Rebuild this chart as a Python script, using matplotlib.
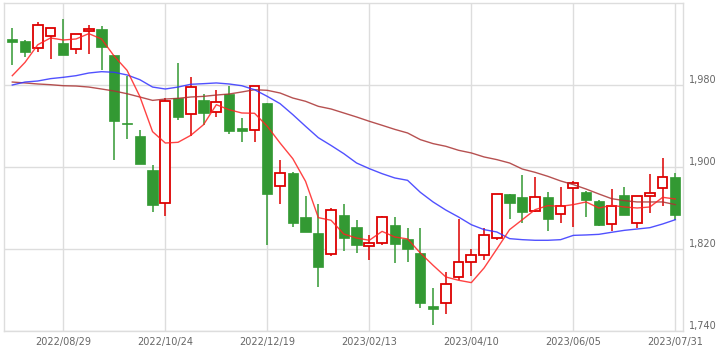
import numpy as np
import pandas as pd
import matplotlib
matplotlib.use("Agg")
import matplotlib.pyplot as plt

# weekly candles 2022/08/01 - 2023/07/31
dates = pd.date_range("2022-08-01", periods=53, freq="W-MON")

opens = [2025.2, 2023.3, 2016.1, 2027.8, 2021.3, 2015.1, 2032.7, 2035.0, 2009.6, 1943.3,
         1930.6, 1897.4, 1864.9, 1967.3, 1951.7, 1965.7, 1953.7, 1970.9, 1938.4, 1936.1,
         1962.8, 1881.5, 1894.5, 1851.5, 1835.9, 1815.1, 1853.5, 1841.8, 1822.9, 1825.9,
         1843.4, 1830.1, 1816.1, 1764.7, 1767.3, 1792.7, 1807.3, 1813.8, 1830.4, 1873.7,
         1870.7, 1857.1, 1870.7, 1854.1, 1879.8, 1875.9, 1867.2, 1844.4, 1873.0, 1845.4,
         1871.7, 1879.5, 1890.6]
highs = [2035.6, 2024.2, 2041.5, 2035.6, 2044.4, 2029.8, 2038.5, 2037.6, 2009.6, 1988.5,
         1936.1, 1902.0, 1967.3, 2001.5, 1987.8, 1971.2, 1975.4, 1979.3, 1947.8, 1979.5,
         1962.8, 1906.8, 1895.1, 1871.4, 1863.9, 1860.0, 1864.2, 1848.6, 1833.7, 1852.5,
         1851.2, 1840.5, 1840.5, 1781.9, 1797.2, 1849.3, 1820.0, 1840.2, 1873.7, 1873.7,
         1892.2, 1889.9, 1875.3, 1880.5, 1886.7, 1876.6, 1867.8, 1878.5, 1880.5, 1871.7,
         1893.5, 1908.8, 1894.1]
lows = [1999.5, 2007.3, 2011.9, 2005.4, 2008.9, 2010.2, 2010.2, 1994.3, 1906.8, 1927.3,
        1902.6, 1856.1, 1851.9, 1946.2, 1930.6, 1941.0, 1948.8, 1932.2, 1924.1, 1924.1,
        1823.9, 1863.9, 1841.1, 1836.3, 1782.9, 1812.8, 1818.0, 1816.1, 1809.6, 1823.6,
        1806.3, 1807.0, 1762.4, 1746.2, 1756.3, 1790.1, 1793.7, 1809.6, 1828.5, 1849.3,
        1845.4, 1855.8, 1837.2, 1845.4, 1841.5, 1851.2, 1842.1, 1837.9, 1852.8, 1840.5,
        1855.1, 1861.6, 1848.6]
closes = [2021.6, 2011.9, 2038.5, 2035.6, 2008.9, 2029.8, 2034.6, 2016.7, 1944.6, 1941.6,
          1902.6, 1862.6, 1964.7, 1948.5, 1978.0, 1952.4, 1963.4, 1934.8, 1934.8, 1979.0,
          1873.3, 1894.1, 1845.0, 1836.3, 1802.1, 1858.1, 1830.4, 1823.6, 1825.9, 1851.2,
          1824.5, 1820.3, 1767.0, 1761.1, 1785.9, 1807.3, 1813.8, 1833.7, 1873.7, 1864.9,
          1855.8, 1870.7, 1849.3, 1861.6, 1884.7, 1868.1, 1843.1, 1862.3, 1852.8, 1871.7,
          1874.6, 1890.2, 1852.8]

ma_short = [1989.1, 2002.1, 2019.3, 2025.9, 2023.9, 2024.9, 2030.1, 2024.9, 2008.0, 1994.3,
            1968.9, 1934.5, 1923.4, 1924.1, 1930.9, 1941.3, 1960.8, 1955.9, 1952.7, 1952.4,
            1939.7, 1923.4, 1908.1, 1886.0, 1850.6, 1848.0, 1834.6, 1830.7, 1828.5, 1837.2,
            1831.7, 1829.8, 1816.1, 1804.1, 1792.7, 1789.5, 1787.2, 1801.5, 1820.0, 1838.9,
            1848.6, 1858.4, 1862.3, 1861.6, 1863.3, 1865.9, 1860.0, 1862.6, 1861.0, 1860.0,
            1861.0, 1870.4, 1868.8]
ma_mid = [1980.0, 1982.9, 1983.9, 1986.2, 1987.5, 1989.1, 1991.7, 1993.0, 1992.4, 1989.8,
          1985.2, 1978.0, 1976.1, 1978.0, 1980.7, 1981.3, 1982.0, 1981.0, 1979.3, 1975.4,
          1968.9, 1961.8, 1951.1, 1939.7, 1928.6, 1921.0, 1913.0, 1903.9, 1898.4, 1893.5,
          1889.3, 1887.0, 1875.3, 1865.9, 1858.0, 1851.2, 1843.7, 1838.9, 1836.6, 1830.1,
          1829.1, 1828.5, 1828.5, 1829.1, 1833.3, 1833.7, 1834.3, 1836.3, 1838.2, 1839.5,
          1840.8, 1844.4, 1848.6]
ma_long = [1982.9, 1982.0, 1981.0, 1980.3, 1979.3, 1979.0, 1978.0, 1976.1, 1974.1, 1971.5,
           1968.3, 1965.0, 1966.3, 1967.0, 1968.3, 1968.9, 1970.2, 1971.2, 1973.2, 1975.4,
           1974.8, 1972.2, 1967.3, 1964.1, 1959.2, 1956.6, 1952.7, 1948.8, 1944.6, 1940.7,
           1936.7, 1933.2, 1926.7, 1922.8, 1920.2, 1916.3, 1913.7, 1909.8, 1907.2, 1903.9,
           1898.0, 1894.8, 1890.9, 1886.4, 1882.8, 1878.5, 1873.7, 1869.1, 1867.2, 1865.9,
           1865.9, 1865.9, 1863.3]

xtick_labels = ["2022/08/29", "2022/10/24", "2022/12/19", "2023/02/13",
                "2023/04/10", "2023/06/05", "2023/07/31"]
yticks = [1740, 1820, 1900, 1980]

green = "#339933"
red = "#dd0000"

fig = plt.figure(figsize=(7.2, 3.52), dpi=100)
ax = fig.add_axes([4 / 720, 1 - 331 / 352, 679 / 720, 328 / 352])

x = np.arange(len(dates))
o = np.array(opens)
c = np.array(closes)
up = c >= o

# wicks
for i in x:
    col = red if up[i] else green
    ax.vlines(i, lows[i], highs[i], color=col, lw=1.1, zorder=2)

# bodies
bottoms = np.minimum(o, c)
heights = np.maximum(np.abs(c - o), 0.8)
ax.bar(x[~up], heights[~up], bottom=bottoms[~up], width=0.8,
       color=green, edgecolor=green, lw=0.5, zorder=3)
ax.bar(x[up], heights[up], bottom=bottoms[up], width=0.76,
       color="white", edgecolor=red, lw=1.3, zorder=3)

# moving averages
ax.plot(x, ma_long, color="#aa3333", lw=1.0, alpha=0.85, zorder=4)
ax.plot(x, ma_mid, color="#3333ff", lw=1.0, alpha=0.85, zorder=4)
ax.plot(x, ma_short, color="#ff2222", lw=1.0, alpha=0.85, zorder=5)

ax.set_xlim(-0.65, 52.6)
ax.set_ylim(1740, 2060)

label_dates = pd.to_datetime(xtick_labels, format="%Y/%m/%d")
xt = [int(np.where(dates == d)[0][0]) for d in label_dates]
ax.set_xticks(xt)
ax.set_xticklabels(xtick_labels)
ax.set_yticks(yticks)
ax.set_yticklabels([f"{v:,}" for v in yticks])
ax.yaxis.tick_right()
ax.tick_params(length=0, labelsize=7, colors="#666666")
ax.tick_params(axis="x", pad=4)
ax.tick_params(axis="y", pad=4)
for lab in ax.get_yticklabels():
    lab.set_verticalalignment("bottom")

ax.grid(True, color="#dddddd", lw=1.0, zorder=0)
ax.set_axisbelow(True)
for s in ax.spines.values():
    s.set_color("#dddddd")
    s.set_linewidth(1.0)

fig.savefig("out.png", dpi=100)
